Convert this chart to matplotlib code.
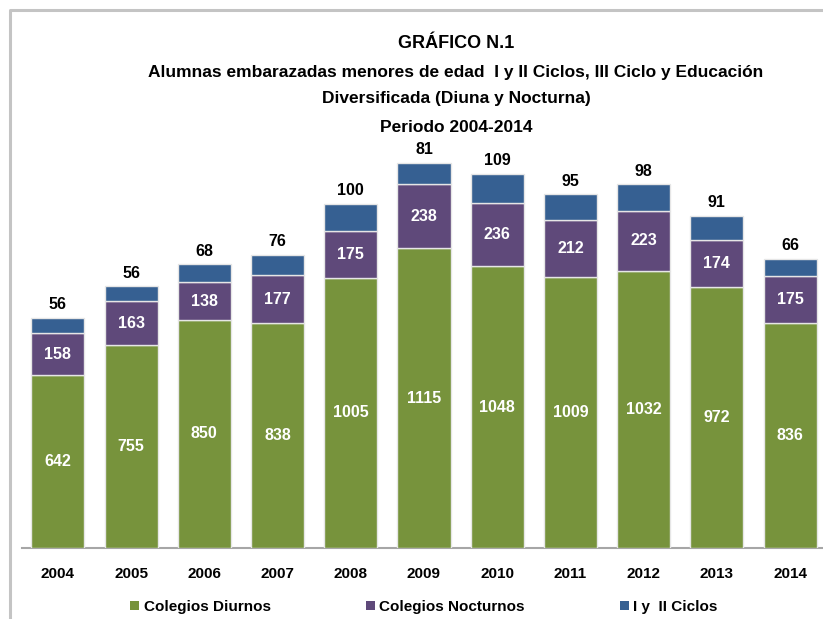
import matplotlib
matplotlib.use("Agg")
import matplotlib.pyplot as plt
from matplotlib.lines import Line2D
from matplotlib.patches import Patch
import numpy as np

# ─── Data ─────────────────────────────────────────────────────────────────────
years = ["2004", "2005", "2006", "2007", "2008", "2009",
         "2010", "2011", "2012", "2013", "2014"]
diurnos = [642, 755, 850, 838, 1005, 1115, 1048, 1009, 1032, 972, 836]
nocturnos = [158, 163, 138, 177, 175, 238, 236, 212, 223, 174, 175]
ciclos = [56, 56, 68, 76, 100, 81, 109, 95, 98, 91, 66]

series_names = ["Colegios Diurnos", "Colegios Nocturnos", "I y  II Ciclos"]
title_lines = [
    "GRÁFICO N.1",
    "Alumnas embarazadas menores de edad  I y II Ciclos, III Ciclo y Educación",
    "Diversificada (Diuna y Nocturna)",
    "Periodo 2004-2014",
]

GREEN = "#77933C"
PURPLE = "#5F497A"
BLUE = "#366092"
FONT = ["Liberation Sans Narrow", "Liberation Sans", "DejaVu Sans"]
plt.rcParams["font.family"] = FONT

W, H = 823, 619
fig = plt.figure(figsize=(W / 100, H / 100), dpi=100)
fig.patch.set_facecolor("white")

# chart frame (cut off on right and bottom)
fig.add_artist(Line2D([9.5 / W, 9.5 / W, 1.0], [0.0, 1 - 10 / H, 1 - 10 / H],
                      transform=fig.transFigure, color="#C4C4C4", lw=2.2))

ax = fig.add_axes([22 / W, 71 / H, 801 / W, 430 / H])
x = np.arange(len(years))
width = 0.725
d = np.array(diurnos)
n = np.array(nocturnos)
c = np.array(ciclos)

kw = dict(width=width, edgecolor="#E6E6E6", linewidth=1.0, zorder=3)
b1 = ax.bar(x, d, color=GREEN, **kw)
b2 = ax.bar(x, n, bottom=d, color=PURPLE, **kw)
b3 = ax.bar(x, c, bottom=d + n, color=BLUE, **kw)

ax.bar_label(b1, labels=[str(v) for v in diurnos], label_type="center",
             color="white", fontsize=11.5, fontweight="bold")
ax.bar_label(b2, labels=[str(v) for v in nocturnos], label_type="center",
             color="white", fontsize=11.5, fontweight="bold")
ax.bar_label(b3, labels=[str(v) for v in ciclos], padding=4,
             color="black", fontsize=11.5, fontweight="bold")

ax.set_xlim(-0.49, 10.45)
ax.set_ylim(0, 1600)
ax.set_xticks(x)
ax.set_xticklabels(years, fontsize=11, fontweight="bold")
ax.tick_params(axis="x", length=0, pad=14)
ax.set_yticks([])
for s in ["top", "right", "left"]:
    ax.spines[s].set_visible(False)
ax.spines["bottom"].set_color("#A6A6A6")
ax.spines["bottom"].set_linewidth(1.5)

# Title
title_y = [44, 72, 98, 127]
title_size = [13, 12.5, 12.5, 12.5]
for txt, yy, fs in zip(title_lines, title_y, title_size):
    fig.text(456 / W, 1 - yy / H, txt, ha="center", va="center",
             fontsize=fs, fontweight="bold")

# Legend
handles = [Patch(facecolor=col, edgecolor="none") for col in (GREEN, PURPLE, BLUE)]
fig.legend(handles, series_names, loc="center", bbox_to_anchor=(424 / W, 1 - 607 / H),
           ncol=3, frameon=False, prop={"weight": "bold", "size": 11},
           handlelength=0.6, handleheight=0.6, handletextpad=0.3, columnspacing=6.2)

fig.savefig("out.png", dpi=100, facecolor="white")
